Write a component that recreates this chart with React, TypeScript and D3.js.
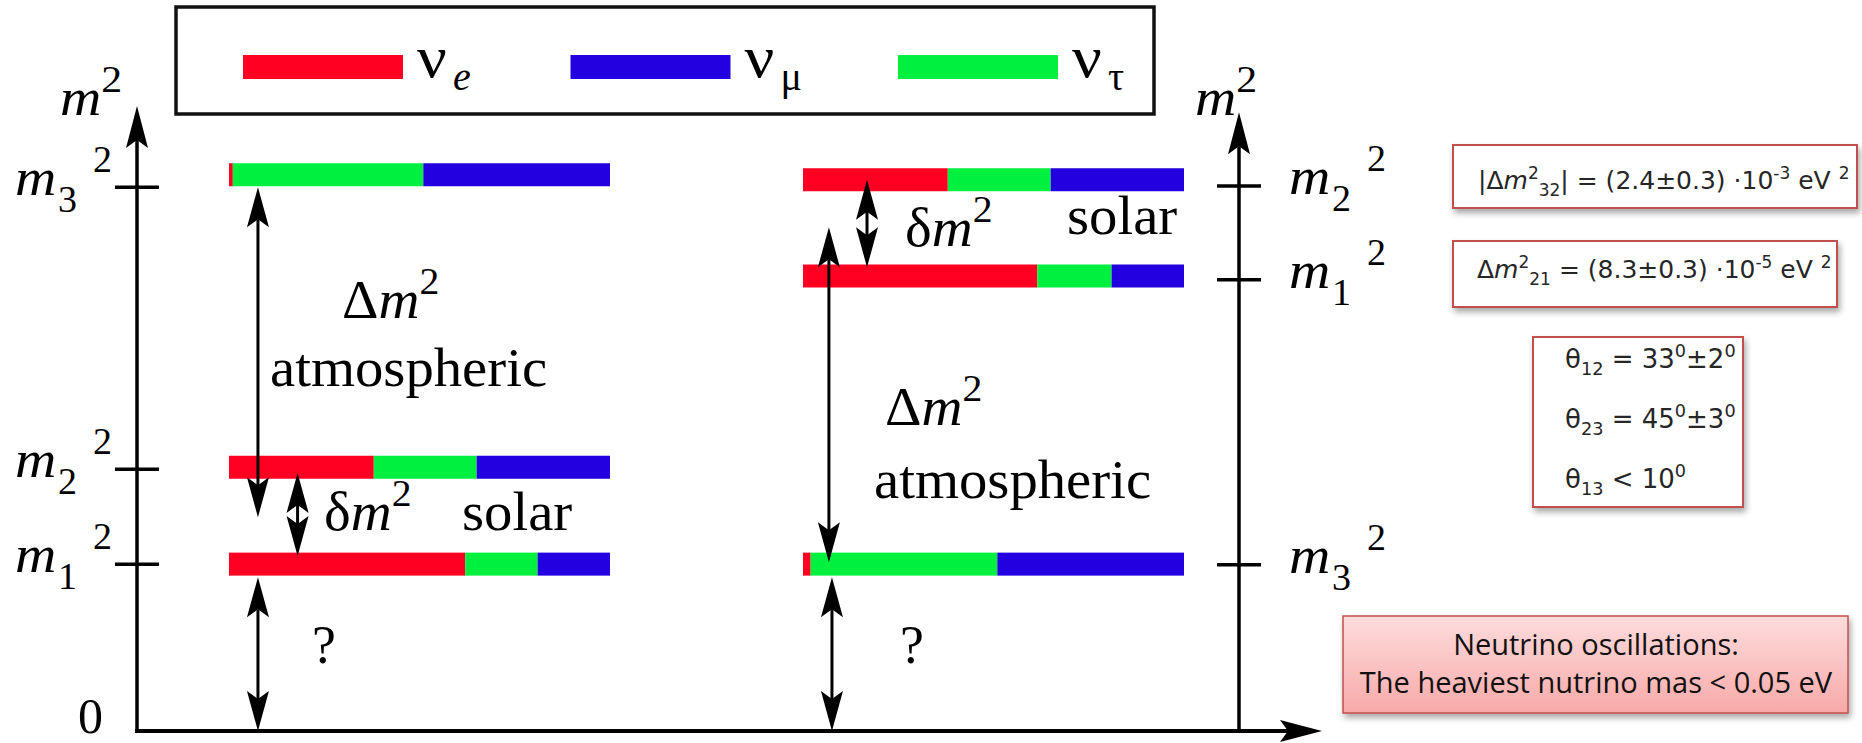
import React from 'react';
import * as d3 from 'd3';

// flavour legend
const FLAVORS = ['e', 'mu', 'tau'];
const FLAVOR_SUBS = ['e', 'μ', 'τ'];
const FLAVOR_COLORS = ['#ff0022', '#2200e0', '#00f040'];
const STACK_ORDER = ['e', 'tau', 'mu'];

// normal hierarchy (left), m² in arbitrary units, 0 = bottom axis
const NORMAL_LEVELS = ['m3', 'm2', 'm1'];
const NORMAL_BAR_VALUES = [89.0, 42.2, 26.7];
const NORMAL_TICK_VALUES = [87.0, 41.9, 26.7];
const NORMAL_E = [0.01, 0.38, 0.62];
const NORMAL_TAU = [0.5, 0.27, 0.19];
const NORMAL_MU = [0.49, 0.35, 0.19];
const NORMAL_SPANS = [[87.0, 34.2], [41.3, 28.0], [24.6, 0]];

// inverted hierarchy (right)
const INVERTED_LEVELS = ['m2', 'm1', 'm3'];
const INVERTED_BAR_VALUES = [88.2, 72.8, 26.7];
const INVERTED_TICK_VALUES = [87.2, 72.2, 26.6];
const INVERTED_E = [0.38, 0.615, 0.02];
const INVERTED_TAU = [0.27, 0.195, 0.49];
const INVERTED_MU = [0.35, 0.19, 0.49];
const INVERTED_SPANS = [[88.2, 74.2], [80.6, 27.0], [24.6, 0]];

const SERIF = '"Liberation Serif", "DejaVu Serif", serif';
const SANS = '"DejaVu Sans", Verdana, sans-serif';
const HUMAN = '"Open Sans", Lato, sans-serif';

const W = 1862, H = 743;
const y = d3.scaleLinear().domain([0, 100]).range([731, 106]);

// arrow head pointing toward (x,y) along (dx,dy)
const head = (x, y0, dx, dy, len = 40, hw = 11, notch = 8) => {
  const bx = x - dx * len, by = y0 - dy * len;
  const px = -dy, py = dx;
  const nx = x - dx * (len - notch), ny = y0 - dy * (len - notch);
  return `M${x},${y0}L${bx + px * hw},${by + py * hw}L${nx},${ny}L${bx - px * hw},${by - py * hw}Z`;
};

function DoubleArrow({ x, y1, y2 }) {
  return (
    <g>
      <line x1={x} x2={x} y1={y1 + 32} y2={y2 - 32} stroke="#000" strokeWidth={3} />
      <path d={head(x, y1, 0, -1)} fill="#000" />
      <path d={head(x, y2, 0, 1)} fill="#000" />
    </g>
  );
}

function Rich({ x, y: yy, size, parts, fill = '#000', family = SERIF, sx = 1, anchor }) {
  let cur = 0;
  return (
    <text transform={`translate(${x},${yy}) scale(${sx},1)`} fontSize={size} fontFamily={family}
      fill={fill} textAnchor={anchor} style={{ whiteSpace: 'pre' }}>
      {parts.map((p, i) => {
        const shift = p.k === 'sup' ? -(p.up ?? 0.42) * size : p.k === 'sub' ? 0.28 * size : 0;
        const dy = shift - cur;
        cur = shift;
        return (
          <tspan key={i} dy={dy} dx={p.dx} fontSize={p.k ? size * (p.s ?? 0.68) : size}
            fontStyle={p.i ? 'italic' : undefined}>{p.t}</tspan>
        );
      })}
    </text>
  );
}

function Panel({ levels, barValues, tickValues, e, tau, mu, spans, barRange, axisX, side, arrowAt, axisTop }) {
  const rows = levels.map((l, i) => ({ level: l, e: e[i], tau: tau[i], mu: mu[i] }));
  const series = d3.stack().keys(STACK_ORDER)(rows);
  const x = d3.scaleLinear().domain([0, 1]).range(barRange);
  const color = d3.scaleOrdinal().domain(FLAVORS).range(FLAVOR_COLORS);
  const barH = 23;
  return (
    <g>
      {series.map(s => s.map((d, i) => (
        <rect key={s.key + i} x={x(d[0])} width={x(d[1]) - x(d[0])} y={y(barValues[i]) - barH / 2}
          height={barH} fill={color(s.key)} />
      )))}
      {/* vertical m² axis */}
      <line x1={axisX} x2={axisX} y1={y(0)} y2={y(axisTop) + 34} stroke="#000" strokeWidth={3.5} />
      <path d={head(axisX, y(axisTop), 0, -1, 42, 11, 8)} fill="#000" />
      {tickValues.map((t, i) => {
        const ty = y(t);
        const lx = side === 'left' ? axisX - 122 : axisX + 50;
        const lv = levels[i];
        return (
          <g key={lv}>
            <line x1={axisX - 22} x2={axisX + 22} y1={ty} y2={ty} stroke="#000" strokeWidth={3.5} />
            <text transform={`translate(${lx},${ty + 8}) scale(1.1,1)`} fontFamily={SERIF} fontSize={52} fontStyle="italic">m</text>
            <text x={lx + 43} y={ty + 25} fontFamily={SERIF} fontSize={38}>{lv[1]}</text>
            <text x={lx + 78} y={ty - 15} fontFamily={SERIF} fontSize={38}>2</text>
          </g>
        );
      })}
      {spans.map((s, i) => (
        <DoubleArrow key={i} x={x(arrowAt[i])} y1={y(s[0])} y2={y(s[1])} />
      ))}
    </g>
  );
}

const dm2 = (sym) => [{ t: sym }, { t: 'm', i: true }, { t: '2', k: 'sup', s: 0.7, up: 0.45 }];

const BOX1 = [{ t: '|Δ' }, { t: 'm', i: true }, { t: '2', k: 'sup' }, { t: '32', k: 'sub' }, { t: '| = (2.4±0.3) ·10' },
  { t: '-3', k: 'sup' }, { t: ' eV ' }, { t: '2', k: 'sup' }];
const BOX2 = [{ t: 'Δ' }, { t: 'm', i: true }, { t: '2', k: 'sup' }, { t: '21', k: 'sub' }, { t: ' = (8.3±0.3) ·10' },
  { t: '-5', k: 'sup' }, { t: ' eV ' }, { t: '2', k: 'sup' }];
const ANGLES = [
  [{ t: 'θ' }, { t: '12', k: 'sub' }, { t: ' = 33' }, { t: '0', k: 'sup' }, { t: '±2' }, { t: '0', k: 'sup' }],
  [{ t: 'θ' }, { t: '23', k: 'sub' }, { t: ' = 45' }, { t: '0', k: 'sup' }, { t: '±3' }, { t: '0', k: 'sup' }],
  [{ t: 'θ' }, { t: '13', k: 'sub' }, { t: ' < 10' }, { t: '0', k: 'sup' }],
];
const NOTE = ['Neutrino oscillations:', 'The heaviest nutrino mas < 0.05 eV'];

export default function App() {
  const legendX = d3.scaleLinear().domain([0, 2]).range([243, 898]);
  return (
    <div style={{ position: 'absolute', left: 0, top: 0, background: '#fff' }}>
      <svg width={W} height={H} viewBox={`0 0 ${W} ${H}`}>
        <defs>
          <filter id="sh" x="-5%" y="-10%" width="115%" height="140%">
            <feDropShadow dx="2" dy="4" stdDeviation="3" floodColor="#000" floodOpacity="0.35" />
          </filter>
          <linearGradient id="pink" x1="0" y1="0" x2="0" y2="1">
            <stop offset="0" stopColor="#fddcdc" />
            <stop offset="1" stopColor="#f8a9a9" />
          </linearGradient>
        </defs>
        <rect width={W} height={H} fill="#fff" />

        {/* legend */}
        <rect x={176} y={7} width={978} height={107} fill="#fff" stroke="#111" strokeWidth={3.5} />
        {FLAVORS.map((f, i) => (
          <g key={f}>
            <rect x={legendX(i)} y={55} width={160} height={24} fill={FLAVOR_COLORS[i]} />
            <text transform={`translate(${legendX(i) + 174},77) scale(1.1,1)`} fontFamily={SERIF} fontSize={60}>ν</text>
            <text x={legendX(i) + 210} y={90} fontFamily={SERIF} fontSize={40}
              fontStyle={f === 'e' ? 'italic' : undefined}>{FLAVOR_SUBS[i]}</text>
          </g>
        ))}

        {/* axis labels */}
        <Rich x={60} y={115} size={52} sx={1.1} parts={[{ t: 'm', i: true }, { t: '2', k: 'sup', s: 0.73, up: 0.45 }]} />
        <Rich x={1195} y={115} size={52} sx={1.1} parts={[{ t: 'm', i: true }, { t: '2', k: 'sup', s: 0.73, up: 0.45 }]} />
        <text x={78} y={733} fontFamily={SERIF} fontSize={50}>0</text>

        <Panel levels={NORMAL_LEVELS} barValues={NORMAL_BAR_VALUES} tickValues={NORMAL_TICK_VALUES}
          e={NORMAL_E} tau={NORMAL_TAU} mu={NORMAL_MU} spans={NORMAL_SPANS} barRange={[229, 610]}
          axisX={137} side="left" arrowAt={[0.076, 0.18, 0.076]} axisTop={100} />
        <Panel levels={INVERTED_LEVELS} barValues={INVERTED_BAR_VALUES} tickValues={INVERTED_TICK_VALUES}
          e={INVERTED_E} tau={INVERTED_TAU} mu={INVERTED_MU} spans={INVERTED_SPANS} barRange={[803, 1184]}
          axisX={1239} side="right" arrowAt={[0.168, 0.068, 0.076]} axisTop={99} />

        {/* bottom axis */}
        <line x1={135} x2={1290} y1={y(0)} y2={y(0)} stroke="#000" strokeWidth={4} />
        <path d={head(1322, y(0), 1, 0, 42, 11, 8)} fill="#000" />

        {/* annotations, normal */}
        <Rich x={342} y={318} size={54} sx={1.05} parts={dm2('Δ')} />
        <Rich x={270} y={386} size={54} sx={1.05} parts={[{ t: 'atmospheric' }]} />
        <Rich x={324} y={530} size={54} sx={1.05} parts={dm2('δ')} />
        <Rich x={462} y={530} size={54} sx={1.05} parts={[{ t: 'solar' }]} />
        <Rich x={312} y={663} size={54} parts={[{ t: '?' }]} />
        {/* annotations, inverted */}
        <Rich x={905} y={246} size={54} sx={1.05} parts={dm2('δ')} />
        <Rich x={1067} y={234} size={54} sx={1.05} parts={[{ t: 'solar' }]} />
        <Rich x={885} y={425} size={54} sx={1.05} parts={dm2('Δ')} />
        <Rich x={874} y={498} size={54} sx={1.05} parts={[{ t: 'atmospheric' }]} />
        <Rich x={900} y={663} size={54} parts={[{ t: '?' }]} />

        {/* parameter boxes */}
        <rect x={1453} y={145} width={404} height={63} fill="#fff" stroke="#c0504d" strokeWidth={2} filter="url(#sh)" />
        <Rich x={1478} y={189} size={25} family={SANS} fill="#262626" parts={BOX1} />
        <rect x={1453} y={241} width={384} height={66} fill="#fff" stroke="#c0504d" strokeWidth={2} filter="url(#sh)" />
        <Rich x={1477} y={278} size={25} family={SANS} fill="#262626" parts={BOX2} />
        <rect x={1533} y={337} width={210} height={170} fill="#fff" stroke="#c0504d" strokeWidth={2} filter="url(#sh)" />
        {ANGLES.map((line, i) => (
          <Rich key={i} x={1565} y={368 + i * 60} size={26} family={SANS} fill="#262626" parts={line} />
        ))}

        <rect x={1343} y={616} width={505} height={97} fill="url(#pink)" stroke="#c0504d" strokeWidth={1.5} filter="url(#sh)" />
        {NOTE.map((t, i) => (
          <text key={i} x={1596} y={655 + i * 38} textAnchor="middle" fontFamily={HUMAN} fontSize={29} fill="#111">{t}</text>
        ))}
      </svg>
    </div>
  );
}
